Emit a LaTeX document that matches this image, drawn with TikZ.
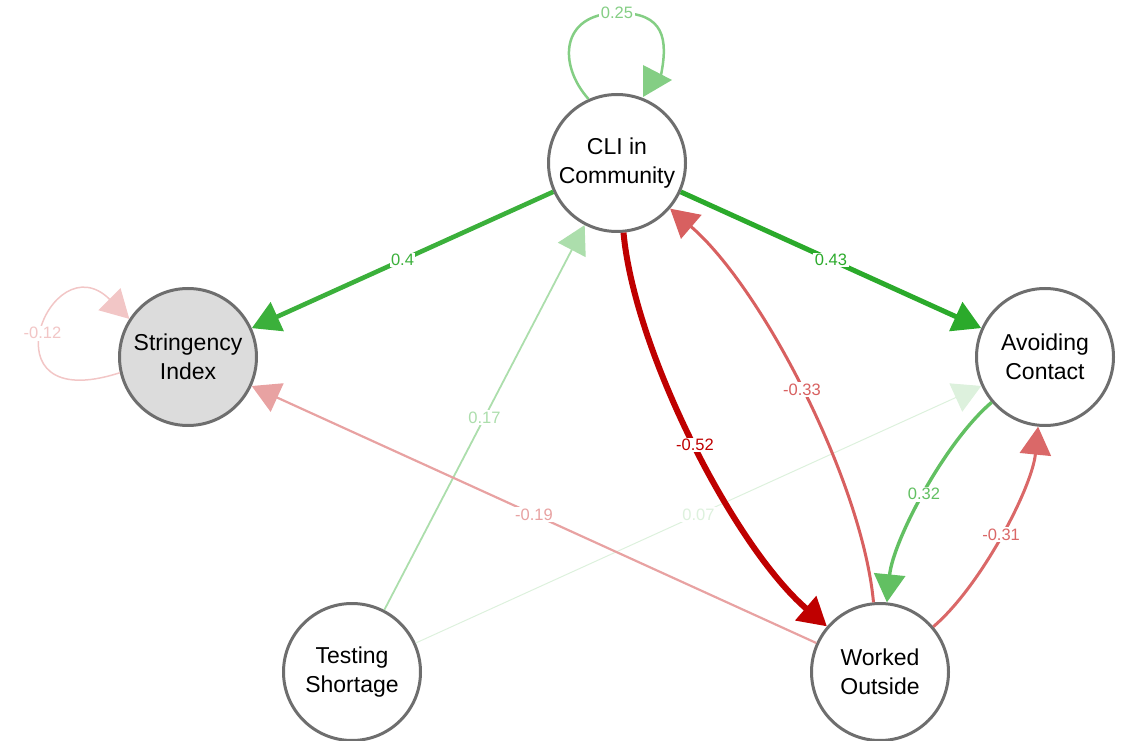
\documentclass[tikz,border=0pt]{standalone}
\usepackage{fontspec}
\setmainfont{Liberation Sans}
\usetikzlibrary{arrows.meta}

% edge colours, faded by weight
\definecolor{pos43}{RGB}{43,170,43}
\definecolor{pos40}{RGB}{59,176,59}
\definecolor{pos32}{RGB}{98,192,98}
\definecolor{pos25}{RGB}{132,206,132}
\definecolor{pos17}{RGB}{172,222,172}
\definecolor{pos07}{RGB}{221,241,221}
\definecolor{neg52}{RGB}{191,0,0}
\definecolor{neg33}{RGB}{216,96,96}
\definecolor{neg31}{RGB}{218,104,104}
\definecolor{neg19}{RGB}{232,162,162}
\definecolor{neg12}{RGB}{242,198,198}
\definecolor{rim}{RGB}{110,110,110}
\definecolor{shade}{RGB}{220,220,220}

\tikzset{
  var/.style={circle, draw=rim, line width=3pt, fill=white, minimum size=137pt,
    inner sep=0pt, align=center, font=\fontsize{23}{29}\selectfont},
  edge/.style={-{Triangle[length=28pt,width=31pt]}},
  lbl/.style={fill=white, inner sep=1.5pt, font=\fontsize{16.5}{16.5}\selectfont},
  arc/.style={bend right=22, looseness=0.7},
}

\begin{document}
\begin{tikzpicture}[x=1pt,y=1pt]
\path[use as bounding box] (0,0) rectangle (1125,740);

% variables
\node[var] (cli) at (617,577) {CLI in\\Community};
\node[var, fill=shade] (str) at (188,383) {Stringency\\Index};
\node[var] (avd) at (1045,383) {Avoiding\\Contact};
\node[var] (tst) at (352,68) {Testing\\Shortage};
\node[var] (wrk) at (880,68) {Worked\\Outside};

% straight edges
\draw[edge, pos07, line width=1pt] (tst) -- (avd) node[lbl, midway] {0.07};
\draw[edge, pos17, line width=1.8pt] (tst) -- (cli) node[lbl, midway] {0.17};
\draw[edge, neg19, line width=2.2pt] (wrk) -- (str) node[lbl, midway] {-0.19};
\draw[edge, pos40, line width=4.6pt] (cli) -- (str) node[lbl, midway] {0.4};
\draw[edge, pos43, line width=5pt] (cli) -- (avd) node[lbl, midway] {0.43};

% curved pairs
\draw[edge, neg52, line width=6pt] (cli) to[arc] node[lbl, midway] {-0.52} (wrk);
\draw[edge, neg33, line width=3pt] (wrk) to[arc] node[lbl, midway] {-0.33} (cli);
\draw[edge, pos32, line width=3.4pt] (avd) to[arc] node[lbl, midway] {0.32} (wrk);
\draw[edge, neg31, line width=3pt] (wrk) to[arc] node[lbl, midway] {-0.31} (avd);

% self loop on Stringency Index
\draw[edge, neg12, line width=1.5pt] (str.193) .. controls (-20,322) and (50,500) .. node[lbl, pos=0.5] {-0.12} (str.147);

% self loop on CLI in Community
\coordinate (cliTip) at (661,665);
\draw[pos25, line width=2.5pt] (cli.114) .. controls (558,675) and (560,726) .. (617,727)
  node[lbl, pos=1] {0.25}
  .. controls (665,728) and (668,700) .. (cliTip);
\fill[pos25] (643,675) -- (672,660) -- (643,643) -- cycle;

\end{tikzpicture}
\end{document}
